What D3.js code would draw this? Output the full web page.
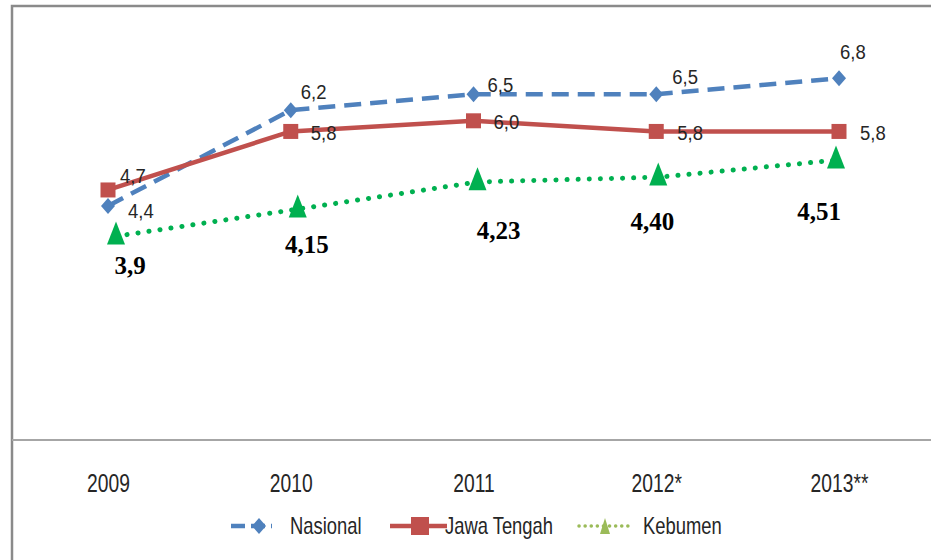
<!DOCTYPE html>
<html lang="en">
<head>
  <meta charset="UTF-8">
  <title>Pertumbuhan</title>
  <style>
    body { margin: 0; background: #fff; }
    svg { display: block; }
    .lbl { font-family: "Liberation Sans", Arial, sans-serif; fill: #262626; }
    .bold { font-family: "Liberation Serif", "Times New Roman", serif; font-weight: bold; fill: #000; }
  </style>
</head>
<body>
  <svg id="chart" width="931" height="560"></svg>

  <script src="https://cdn.jsdelivr.net/npm/d3@7"></script>
  <script>
    // data
    const years = ["2009", "2010", "2011", "2012*", "2013**"];
    const nasional = [4.4, 6.2, 6.5, 6.5, 6.8];
    const jawaTengah = [4.7, 5.8, 6.0, 5.8, 5.8];
    // Kebumen: labelled values, and the height the markers are drawn at in the picture
    const kebumenLabels = ["3,9", "4,15", "4,23", "4,40", "4,51"];
    const kebumenDrawn = [3.89, 4.4, 4.91, 5.0, 5.32];

    // layout only
    const nasOffset = [[20, 12], [10, -11], [14, -2], [16, -10], [1, -19]];
    const jtOffset = [[12, -7], [20, 9], [20, 8], [21, 9], [21, 9]];
    const kebOffset = [[22, 41], [16, 47], [25, 60], [-4, 56], [-20, 63]];
    const kebShift = [8, 7, 4, 2, -3];
    const narrow = 0.8; // squeeze text to look like the condensed original font

    const svg = d3.select("#chart");

    const x = d3.scalePoint().domain(years).range([108, 839]);
    const y = d3.scaleLinear().domain([0, 7]).range([440, 67.6]);

    const fmt = v => d3.format(".1f")(v).replace(".", ",");
    const place = (px, py, sx) => `translate(${px},${py}) scale(${sx},1)`;

    // frame
    svg.append("path")
      .attr("d", "M12,560 L12,6 L931,6")
      .attr("fill", "none")
      .attr("stroke", "#8a8a8a")
      .attr("stroke-width", 2.5);

    // category axis
    const xAxis = svg.append("g")
      .attr("transform", "translate(0,440)")
      .call(d3.axisBottom(x).tickSize(0).tickPadding(34));
    xAxis.select(".domain").remove();
    svg.append("line")
      .attr("x1", 12).attr("x2", 931)
      .attr("y1", 440).attr("y2", 440)
      .attr("stroke", "#a6a6a6")
      .attr("stroke-width", 2);
    xAxis.selectAll("text")
      .attr("class", "lbl")
      .attr("fill", null)
      .attr("transform", "scale(0.77,1)")
      .style("font-size", "25px");

    const line = d3.line().x((d, i) => x(years[i])).y(d => y(d));
    const kebLine = d3.line().x((d, i) => x(years[i]) + kebShift[i]).y(d => y(d));

    // Kebumen (dotted green)
    svg.append("path")
      .datum(kebumenDrawn.map(v => v - 0.06))
      .attr("d", kebLine)
      .attr("fill", "none")
      .attr("stroke", "#00b050")
      .attr("stroke-width", 5)
      .attr("stroke-linecap", "round")
      .attr("stroke-dasharray", "0.1 11");

    // Nasional (dashed blue)
    svg.append("path")
      .datum(nasional)
      .attr("d", line)
      .attr("fill", "none")
      .attr("stroke", "#4f81bd")
      .attr("stroke-width", 4.5)
      .attr("stroke-dasharray", "17 9");

    // Jawa Tengah (solid red)
    svg.append("path")
      .datum(jawaTengah)
      .attr("d", line)
      .attr("fill", "none")
      .attr("stroke", "#c0504d")
      .attr("stroke-width", 4.5);

    const diamond = "M0,-8 L7,0 L0,8 L-7,0 Z";
    const triangle = (w, h) => `M0,${-h / 2} L${w / 2},${h / 2} L${-w / 2},${h / 2} Z`;

    svg.selectAll(".nas-pt")
      .data(nasional)
      .join("path")
      .attr("d", diamond)
      .attr("fill", "#4f81bd")
      .attr("transform", (d, i) => `translate(${x(years[i])},${y(d)})`);

    svg.selectAll(".jt-pt")
      .data(jawaTengah)
      .join("rect")
      .attr("x", (d, i) => x(years[i]) - 7.5)
      .attr("y", d => y(d) - 7.5)
      .attr("width", 15)
      .attr("height", 15)
      .attr("fill", "#c0504d");

    svg.selectAll(".keb-pt")
      .data(kebumenDrawn)
      .join("path")
      .attr("d", triangle(18, 23))
      .attr("fill", "#00b050")
      .attr("transform", (d, i) => `translate(${x(years[i]) + kebShift[i]},${y(d)})`);

    // data labels
    svg.selectAll(".nas-lbl")
      .data(nasional)
      .join("text")
      .attr("class", "lbl")
      .attr("transform", (d, i) => place(x(years[i]) + nasOffset[i][0], y(d) + nasOffset[i][1], 0.88))
      .style("font-size", "21px")
      .text(fmt);

    svg.selectAll(".jt-lbl")
      .data(jawaTengah)
      .join("text")
      .attr("class", "lbl")
      .attr("transform", (d, i) => place(x(years[i]) + jtOffset[i][0], y(d) + jtOffset[i][1], 0.88))
      .style("font-size", "21px")
      .text(fmt);

    svg.selectAll(".keb-lbl")
      .data(kebumenLabels)
      .join("text")
      .attr("class", "bold")
      .attr("text-anchor", "middle")
      .attr("x", (d, i) => x(years[i]) + kebOffset[i][0])
      .attr("y", (d, i) => y(kebumenDrawn[i]) + kebOffset[i][1])
      .style("font-size", "25px")
      .text(d => d);

    // legend
    const legend = svg.append("g").attr("transform", "translate(0,526)");
    legend.append("line")
      .attr("x1", 231).attr("x2", 272)
      .attr("stroke", "#4f81bd").attr("stroke-width", 4.5)
      .attr("stroke-dasharray", "14 6");
    legend.append("path").attr("d", diamond).attr("fill", "#4f81bd")
      .attr("transform", "translate(259,0)");
    legend.append("text").attr("class", "lbl")
      .attr("transform", place(290, 8, narrow))
      .style("font-size", "23px").text("Nasional");

    legend.append("line")
      .attr("x1", 390).attr("x2", 447)
      .attr("stroke", "#c0504d").attr("stroke-width", 4.5);
    legend.append("rect").attr("x", 411).attr("y", -9)
      .attr("width", 18).attr("height", 18).attr("fill", "#c0504d");
    legend.append("text").attr("class", "lbl")
      .attr("transform", place(445, 8, narrow))
      .style("font-size", "23px").text("Jawa Tengah");

    legend.append("line")
      .attr("x1", 579).attr("x2", 632)
      .attr("stroke", "#9bbb59").attr("stroke-width", 3.5)
      .attr("stroke-linecap", "round")
      .attr("stroke-dasharray", "0.1 6");
    legend.append("path").attr("d", triangle(10, 16)).attr("fill", "#9bbb59")
      .attr("transform", "translate(605,0)");
    legend.append("text").attr("class", "lbl")
      .attr("transform", place(643, 8, narrow))
      .style("font-size", "23px").text("Kebumen");
  </script>
</body>
</html>
